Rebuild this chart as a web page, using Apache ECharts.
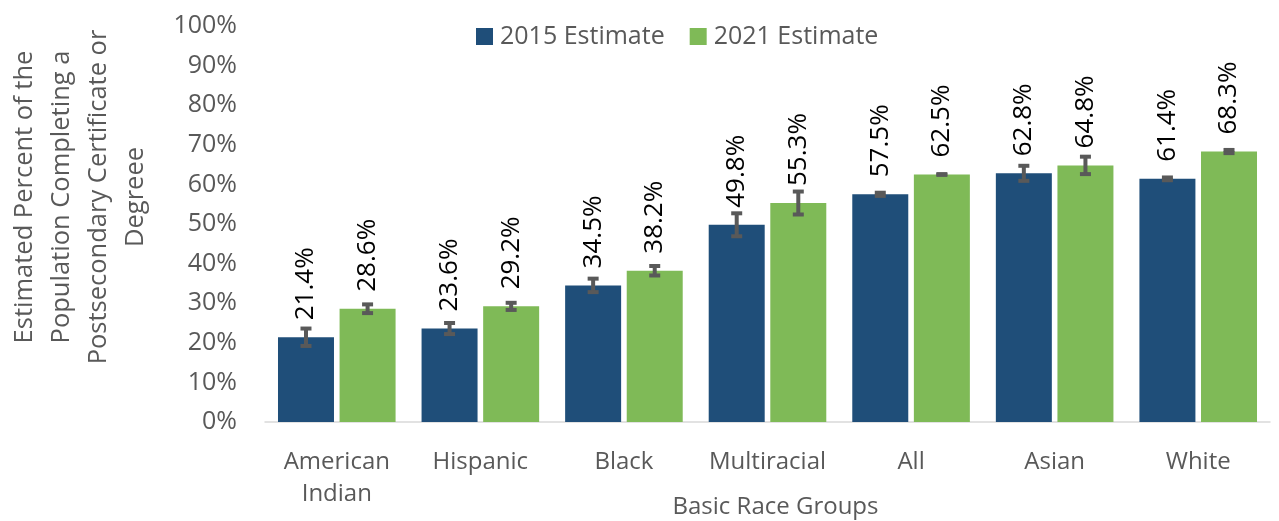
<!DOCTYPE html>
<html><head><meta charset="utf-8">
<script src="https://cdn.jsdelivr.net/npm/echarts@6/dist/echarts.min.js"></script>
<style>html,body{margin:0;padding:0;background:#fff}#c{width:1279px;height:521px}</style>
</head><body><div id="c"></div>
<script>
const categories = ['American\nIndian', 'Hispanic', 'Black', 'Multiracial', 'All', 'Asian', 'White'];
const values2015 = [21.4, 23.6, 34.5, 49.8, 57.5, 62.8, 61.4];
const values2021 = [28.6, 29.2, 38.2, 55.3, 62.5, 64.8, 68.3];
const err2015 = [2.2, 1.4, 1.7, 2.9, 0.4, 1.9, 0.35];
const err2021 = [1.1, 0.9, 1.2, 2.9, 0.1, 2.2, 0.4];
const seriesNames = ['2015 Estimate', '2021 Estimate'];
const colors = ['#1F4E79', '#7FBA57'];
const FONT = 'Open Sans';
const BAR_W = 0.39, BAR_GAP = 0.1;

const chart = echarts.init(document.getElementById('c'));

function errSeries(values, errs, sign) {
  return {
    type: 'custom',
    z: 10,
    data: values.map((v, i) => [i, v, errs[i]]),
    renderItem: function (params, api) {
      const i = api.value(0), v = api.value(1), e = api.value(2);
      const band = api.size([1, 0])[0];
      const off = sign * band * BAR_W * (1 + BAR_GAP) / 2;
      const top = api.coord([i, v + e]);
      const bot = api.coord([i, v - e]);
      const x = top[0] + off;
      const capW = 11;
      const style = { stroke: '#595959', lineWidth: 4, fill: null };
      return {
        type: 'group',
        children: [
          { type: 'line', shape: { x1: x, y1: top[1], x2: x, y2: bot[1] }, style: style },
          { type: 'line', shape: { x1: x - capW / 2, y1: top[1], x2: x + capW / 2, y2: top[1] }, style: style },
          { type: 'line', shape: { x1: x - capW / 2, y1: bot[1], x2: x + capW / 2, y2: bot[1] }, style: style }
        ]
      };
    },
    tooltip: { show: false },
    silent: true
  };
}

function barSeries(name, values, color) {
  return {
    name: name,
    type: 'bar',
    data: values,
    barWidth: (BAR_W * 100) + '%',
    barGap: (BAR_GAP * 100) + '%',
    itemStyle: { color: color },
    label: {
      show: true,
      position: 'top',
      rotate: 90,
      align: 'left',
      verticalAlign: 'middle',
      distance: 17,
      color: '#000',
      fontFamily: FONT,
      fontSize: 26,
      formatter: p => p.value.toFixed(1) + '%'
    }
  };
}

chart.setOption({
  animation: false,
  textStyle: { fontFamily: FONT },
  legend: {
    data: seriesNames,
    top: 19,
    left: 471,
    itemWidth: 17,
    itemHeight: 17,
    itemGap: 25,
    icon: 'rect',
    textStyle: { fontFamily: FONT, fontSize: 25, color: '#595959', padding: [0, 0, 0, 2] }
  },
  grid: { left: 265, right: 9, top: 26, bottom: 99, containLabel: false, outerBoundsMode: 'none' },
  xAxis: {
    type: 'category',
    data: categories,
    axisLine: { lineStyle: { color: '#D9D9D9', width: 1.5 } },
    axisTick: { show: false },
    axisLabel: { interval: 0, fontFamily: FONT, fontSize: 24, color: '#595959', margin: 24, lineHeight: 32 },
    name: 'Basic Race Groups',
    nameLocation: 'middle',
    nameGap: 73,
    nameMoveOverlap: false,
    nameTextStyle: { fontFamily: FONT, fontSize: 24, color: '#595959', padding: [0, 0, 0, 16] }
  },
  yAxis: {
    type: 'value',
    min: 0, max: 100, interval: 10,
    splitLine: { show: false },
    axisLine: { show: false },
    axisTick: { show: false },
    axisLabel: { formatter: '{value}%', fontFamily: FONT, fontSize: 25, color: '#595959', margin: 28 },
    name: 'Estimated Percent of the\nPopulation Completing a\nPostsecondary Certificate or\nDegreee',
    nameLocation: 'middle',
    nameGap: 185,
    nameRotate: 90,
    nameMoveOverlap: false,
    nameTextStyle: { fontFamily: FONT, fontSize: 25.5, color: '#595959', lineHeight: 37, align: 'center', verticalAlign: 'middle', padding: [0, 0, 0, 54] }
  },
  series: [
    barSeries(seriesNames[0], values2015, colors[0]),
    barSeries(seriesNames[1], values2021, colors[1]),
    errSeries(values2015, err2015, -1),
    errSeries(values2021, err2021, 1)
  ]
});
</script>
</body></html>
